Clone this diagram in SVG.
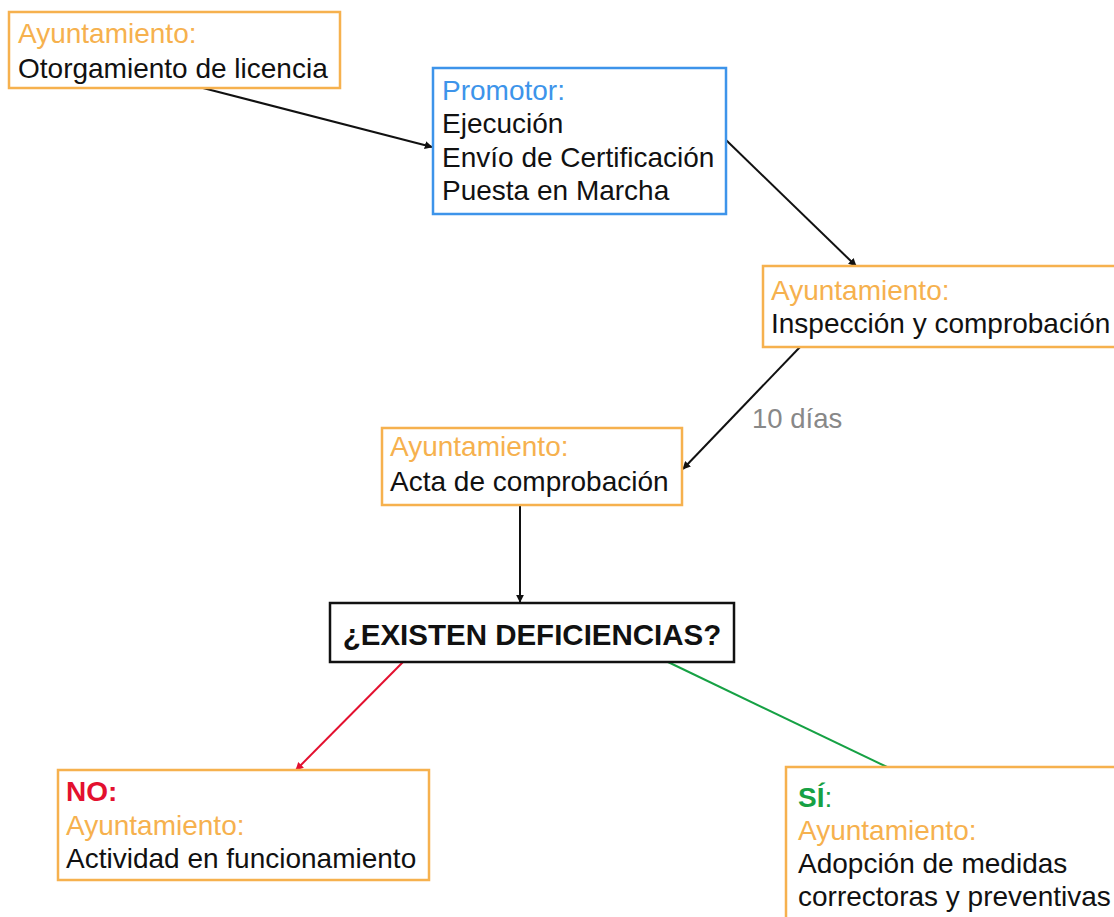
<svg xmlns="http://www.w3.org/2000/svg" width="1114" height="917" viewBox="0 0 1114 917">
<style>
text{font-family:"Liberation Sans",Arial,sans-serif;font-size:28px;fill:#111}
.box{fill:#fff;stroke:#f6b14e;stroke-width:2.5}
.blue{fill:#fff;stroke:#3d94ea;stroke-width:2.5}
.dec{fill:#fff;stroke:#111;stroke-width:2.5}
.or{fill:#f6b14e}
.bl{fill:#3d94ea}
.red{fill:#e3102f;font-weight:bold}
.grn{fill:#16a144;font-weight:bold}
.edge{fill:none;stroke:#111;stroke-width:2}
</style>
<defs>
<marker id="ah" viewBox="0 0 10 10" refX="9" refY="5" markerWidth="4" markerHeight="4" orient="auto"><path d="M0,0L10,5L0,10z" fill="#111"/></marker>
<marker id="ahr" viewBox="0 0 10 10" refX="9" refY="5" markerWidth="4" markerHeight="4" orient="auto"><path d="M0,0L10,5L0,10z" fill="#e3102f"/></marker>
</defs>
<rect width="1114" height="917" fill="#fff"/>
<g id="connectors">
<line class="edge" x1="203" y1="88" x2="432" y2="147" marker-end="url(#ah)"/>
<line class="edge" x1="726" y1="140" x2="856" y2="266" marker-end="url(#ah)"/>
<line class="edge" x1="800" y1="347" x2="683" y2="469" marker-end="url(#ah)"/>
<line class="edge" x1="520" y1="505" x2="520" y2="602" marker-end="url(#ah)"/>
<line class="edge" x1="403" y1="662" x2="296" y2="770" style="stroke:#e3102f" marker-end="url(#ahr)"/>
<line class="edge" x1="668" y1="662" x2="887" y2="767" style="stroke:#16a144"/>
<text x="752" y="428" style="fill:#888;font-size:27.5px">10 días</text>
</g>
<g id="n1">
<rect class="box" x="9" y="12" width="331" height="76"/>
<text x="18" y="43" class="or">Ayuntamiento:</text>
<text x="18" y="78">Otorgamiento de licencia</text>
</g>
<g id="n2">
<rect class="blue" x="433" y="68" width="293" height="146"/>
<text x="442" y="100" class="bl">Promotor:</text>
<text x="442" y="133">Ejecución</text>
<text x="442" y="167">Envío de Certificación</text>
<text x="442" y="200">Puesta en Marcha</text>
</g>
<g id="n3">
<rect class="box" x="763" y="266" width="360" height="81"/>
<text x="771" y="300" class="or">Ayuntamiento:</text>
<text x="771" y="333">Inspección y comprobación</text>
</g>
<g id="n4">
<rect class="box" x="382" y="428" width="300" height="77"/>
<text x="390" y="456" class="or">Ayuntamiento:</text>
<text x="390" y="491">Acta de comprobación</text>
</g>
<g id="n5">
<rect class="dec" x="330" y="603" width="404" height="59"/>
<text x="532" y="645" text-anchor="middle" style="font-weight:bold;font-size:29.5px">¿EXISTEN DEFICIENCIAS?</text>
</g>
<g id="n6">
<rect class="box" x="58" y="770" width="371" height="110"/>
<text x="66" y="801" class="red">NO:</text>
<text x="66" y="835" class="or">Ayuntamiento:</text>
<text x="66" y="868">Actividad en funcionamiento</text>
</g>
<g id="n7">
<rect class="box" x="786" y="767" width="340" height="160"/>
<text x="798" y="807"><tspan class="grn">SÍ</tspan><tspan style="fill:#16a144">:</tspan></text>
<text x="798" y="840" class="or">Ayuntamiento:</text>
<text x="798" y="873">Adopción de medidas</text>
<text x="798" y="906">correctoras y preventivas</text>
</g>
</svg>
